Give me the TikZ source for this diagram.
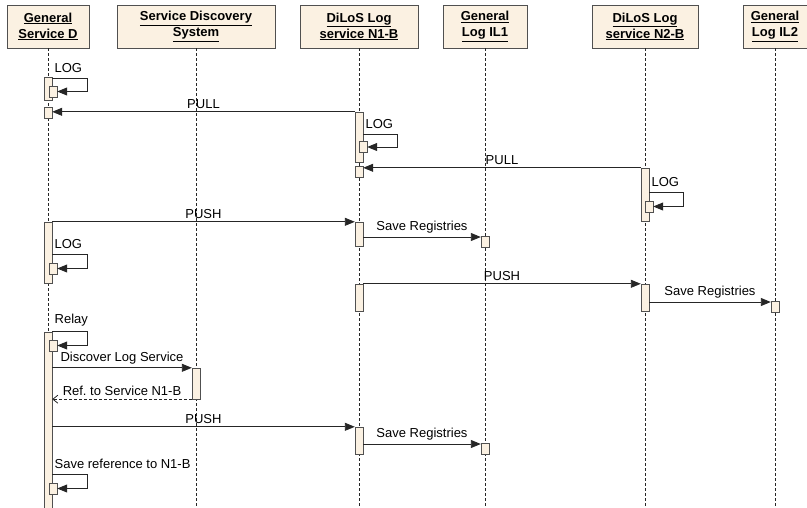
\documentclass[tikz,border=0pt]{standalone}
\usepackage{fontspec}
\setmainfont{Liberation Sans}
\usetikzlibrary{arrows.meta}

\definecolor{boxfill}{RGB}{251,241,226}
\definecolor{boxline}{RGB}{80,80,80}

\begin{document}
\begin{tikzpicture}[x=1pt, y=-1pt, >={Triangle[length=10pt,width=8pt]},
  font=\fontsize{13}{16}\selectfont,
  header/.style={draw=boxline, fill=boxfill, minimum height=43, align=center, inner sep=2, font=\fontsize{13}{16}\selectfont\bfseries},
  lifeline/.style={draw=black!85, dash pattern=on 3pt off 2pt, line width=0.8pt},
  bar/.style={draw=boxline, fill=boxfill, minimum width=8, inner sep=0},
  actbox/.style={bar, minimum height=11},
  msg/.style={->, draw=black!85, line width=0.9pt},
  reply/.style={-{Straight Barb[length=5pt,width=8pt]}, draw=black!85, line width=0.8pt, dash pattern=on 3pt off 2pt},
  lbl/.style={midway, above, inner sep=2, yshift=1pt},
  looplbl/.style={anchor=south west, inner sep=2, yshift=3pt}]
  \useasboundingbox (0,0) rectangle (807,507);

  % lifeline heads
  \node[header, minimum width=82] (gsd) at (48,26.5) {\underline{General}\\\underline{Service D}};
  \node[header, minimum width=158] (sds) at (196,26.5) {\underline{Service Discovery}\\\underline{System}};
  \node[header, minimum width=118] (logna) at (359,26.5) {\underline{DiLoS Log}\\\underline{service N1-B}};
  \node[header, minimum width=84] (ilone) at (485,26.5) {\underline{General}\\\underline{Log IL1}};
  \node[header, minimum width=106] (lognb) at (645,26.5) {\underline{DiLoS Log}\\\underline{service N2-B}};
  \node[header, minimum width=64] (iltwo) at (775,26.5) {\underline{General}\\\underline{Log IL2}};
  \foreach \hd in {gsd,sds,logna,ilone,lognb,iltwo}
    \draw[lifeline] (\hd.south) -- ++(0,462);

  % activation bars
  \node[bar, minimum height=23] (dLog) at (48,88.5) {};
  \node[actbox] (dLogBox) at (53,91.5) {};
  \node[actbox] (dPullBox) at (48,113) {};
  \node[bar, minimum height=50] (nPullBar) at (359,137) {};
  \node[actbox] (nLogBox) at (363,147) {};
  \node[actbox] (nPullBox) at (359,172) {};
  \node[bar, minimum height=53] (n2PullBar) at (645,194.5) {};
  \node[actbox] (n2LogBox) at (649,206.5) {};
  \node[bar, minimum height=61] (dPushBar) at (48,252.5) {};
  \node[bar, minimum height=24] (nPushBar) at (359,234) {};
  \node[actbox] (ilOneBox) at (485,242) {};
  \node[actbox] (dLogBox2) at (53,268.5) {};
  \node[bar, minimum height=27] (nPushBar2) at (359,297.5) {};
  \node[bar, minimum height=27] (n2PushBar) at (645,297.5) {};
  \node[actbox] (ilTwoBox) at (775,306.5) {};
  \node[bar, minimum height=180] (dRelayBar) at (48,422) {};
  \node[actbox] (dRelayBox) at (53,345.5) {};
  \node[bar, minimum height=31] (sdsBar) at (196,383.5) {};
  \node[bar, minimum height=27] (nPushBar3) at (359,440.5) {};
  \node[actbox] (ilOneBox2) at (485,449) {};
  \node[actbox] (dSaveBox) at (53,488.5) {};

  % messages
  \draw[msg] (dLog.east |- 0,78) node[looplbl] {LOG} -- ++(35,0) |- (dLogBox.east);
  \draw[msg] (nPullBar.north west) -- (dPullBox.east |- nPullBar.north west) node[lbl] {PULL};
  \draw[msg] (nPullBar.east |- 0,134) node[looplbl] {LOG} -- ++(34,0) |- (nLogBox.east);
  \draw[msg] (n2PullBar.north west) -- (nPullBox.east |- n2PullBar.north west) node[lbl] {PULL};
  \draw[msg] (n2PullBar.east |- 0,192) node[looplbl] {LOG} -- ++(34,0) |- (n2LogBox.east);
  \draw[msg] (dPushBar.north east) -- (nPushBar.north west) node[lbl] {PUSH};
  \draw[msg] (nPushBar.east |- 0,237) -- (ilOneBox.west |- 0,237) node[lbl] {Save Registries};
  \draw[msg] (dPushBar.east |- 0,254) node[looplbl] {LOG} -- ++(35,0) |- (dLogBox2.east);
  \draw[msg] (nPushBar2.north east) -- (n2PushBar.north west) node[lbl] {PUSH};
  \draw[msg] (n2PushBar.east |- 0,302) -- (ilTwoBox.west |- 0,302) node[lbl] {Save Registries};
  \draw[msg] (dRelayBar.north east) node[looplbl] {Relay} -- ++(35,0) |- (dRelayBox.east);
  \draw[msg] (dRelayBar.east |- sdsBar.north) -- (sdsBar.north west) node[lbl] {Discover Log Service};
  \draw[reply] (sdsBar.south west) -- (dRelayBar.east |- sdsBar.south) node[lbl] {Ref.\ to Service N1-B};
  \draw[msg] (dRelayBar.east |- nPushBar3.north) -- (nPushBar3.north west) node[lbl] {PUSH};
  \draw[msg] (nPushBar3.east |- 0,444) -- (ilOneBox2.west |- 0,444) node[lbl] {Save Registries};
  \draw[msg] (dRelayBar.east |- 0,474) node[looplbl] {Save reference to N1-B} -- ++(35,0) |- (dSaveBox.east);
\end{tikzpicture}
\end{document}
